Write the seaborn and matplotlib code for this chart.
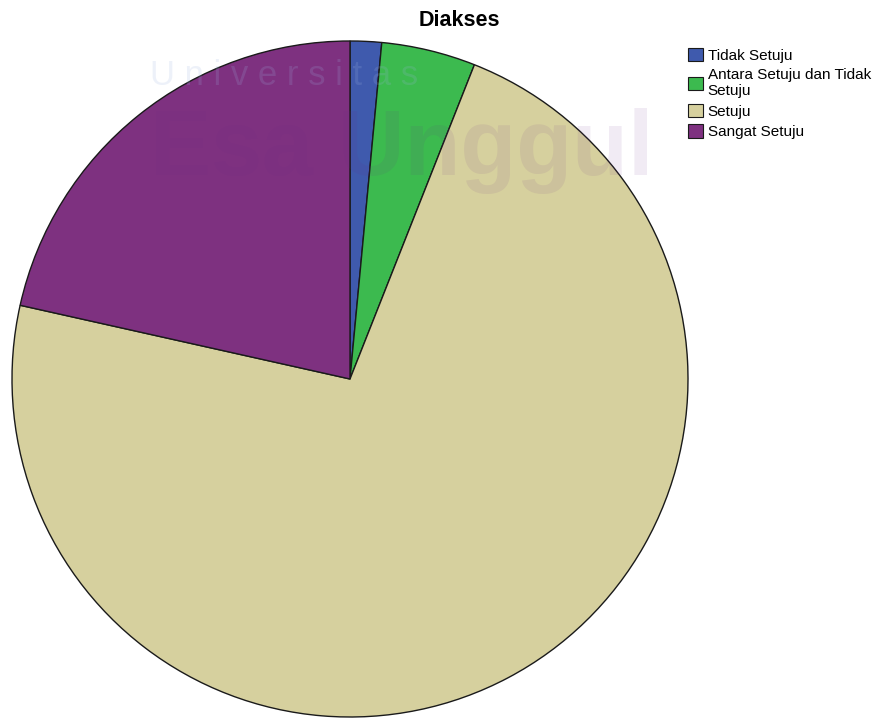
import matplotlib

matplotlib.use("Agg")

import matplotlib.pyplot as plt
import seaborn as sns
from matplotlib.patches import Patch

title = "Diakses"
labels = ["Tidak Setuju", "Antara Setuju dan Tidak\nSetuju", "Setuju", "Sangat Setuju"]
percent = [1.5, 4.5, 72.5, 21.5]
colors = ["#3f5aad", "#3cba4f", "#d6d09e", "#7e3180"]

sns.set_style("white")
plt.rcParams["font.family"] = ["Liberation Sans", "DejaVu Sans"]
plt.rcParams["text.color"] = "black"

fig = plt.figure(figsize=(8.82, 7.18), dpi=100)
ax = fig.add_axes([12 / 882, 1 / 718, 676 / 882, 676 / 718])

pal = sns.color_palette(colors)
ax.pie(
    percent,
    colors=pal,
    startangle=90,
    counterclock=False,
    wedgeprops=dict(edgecolor="#1a1a1a", linewidth=1.0),
)
ax.set_xlim(-1.0, 1.0)
ax.set_ylim(-1.0, 1.0)
ax.set_aspect("equal")
ax.axis("off")

# faint watermark of the source document
fig.text(0.17, 0.895, "U n i v e r s i t a s", fontsize=25, color="#9fb4e0",
         alpha=0.18, ha="left", va="center", zorder=10)
fig.text(0.17, 0.79, "Esa Unggul", fontsize=66, fontweight="bold", color="#6a2a8a",
         alpha=0.09, ha="left", va="center", zorder=10)

fig.text(459 / 882, 1 - 20 / 718, title, fontsize=15.5, fontweight="bold",
         color="black", ha="center", va="center")

handles = [Patch(facecolor=c, edgecolor="#1a1a1a", linewidth=0.8) for c in pal]
fig.legend(
    handles,
    labels,
    loc="upper left",
    bbox_to_anchor=(677 / 882, 1 - 37 / 718),
    frameon=False,
    fontsize=11,
    handlelength=1.0,
    handleheight=1.0,
    handletextpad=0.3,
    labelspacing=0.35,
    borderpad=0.2,
    labelcolor="black",
)

fig.savefig("out.png", dpi=100)
